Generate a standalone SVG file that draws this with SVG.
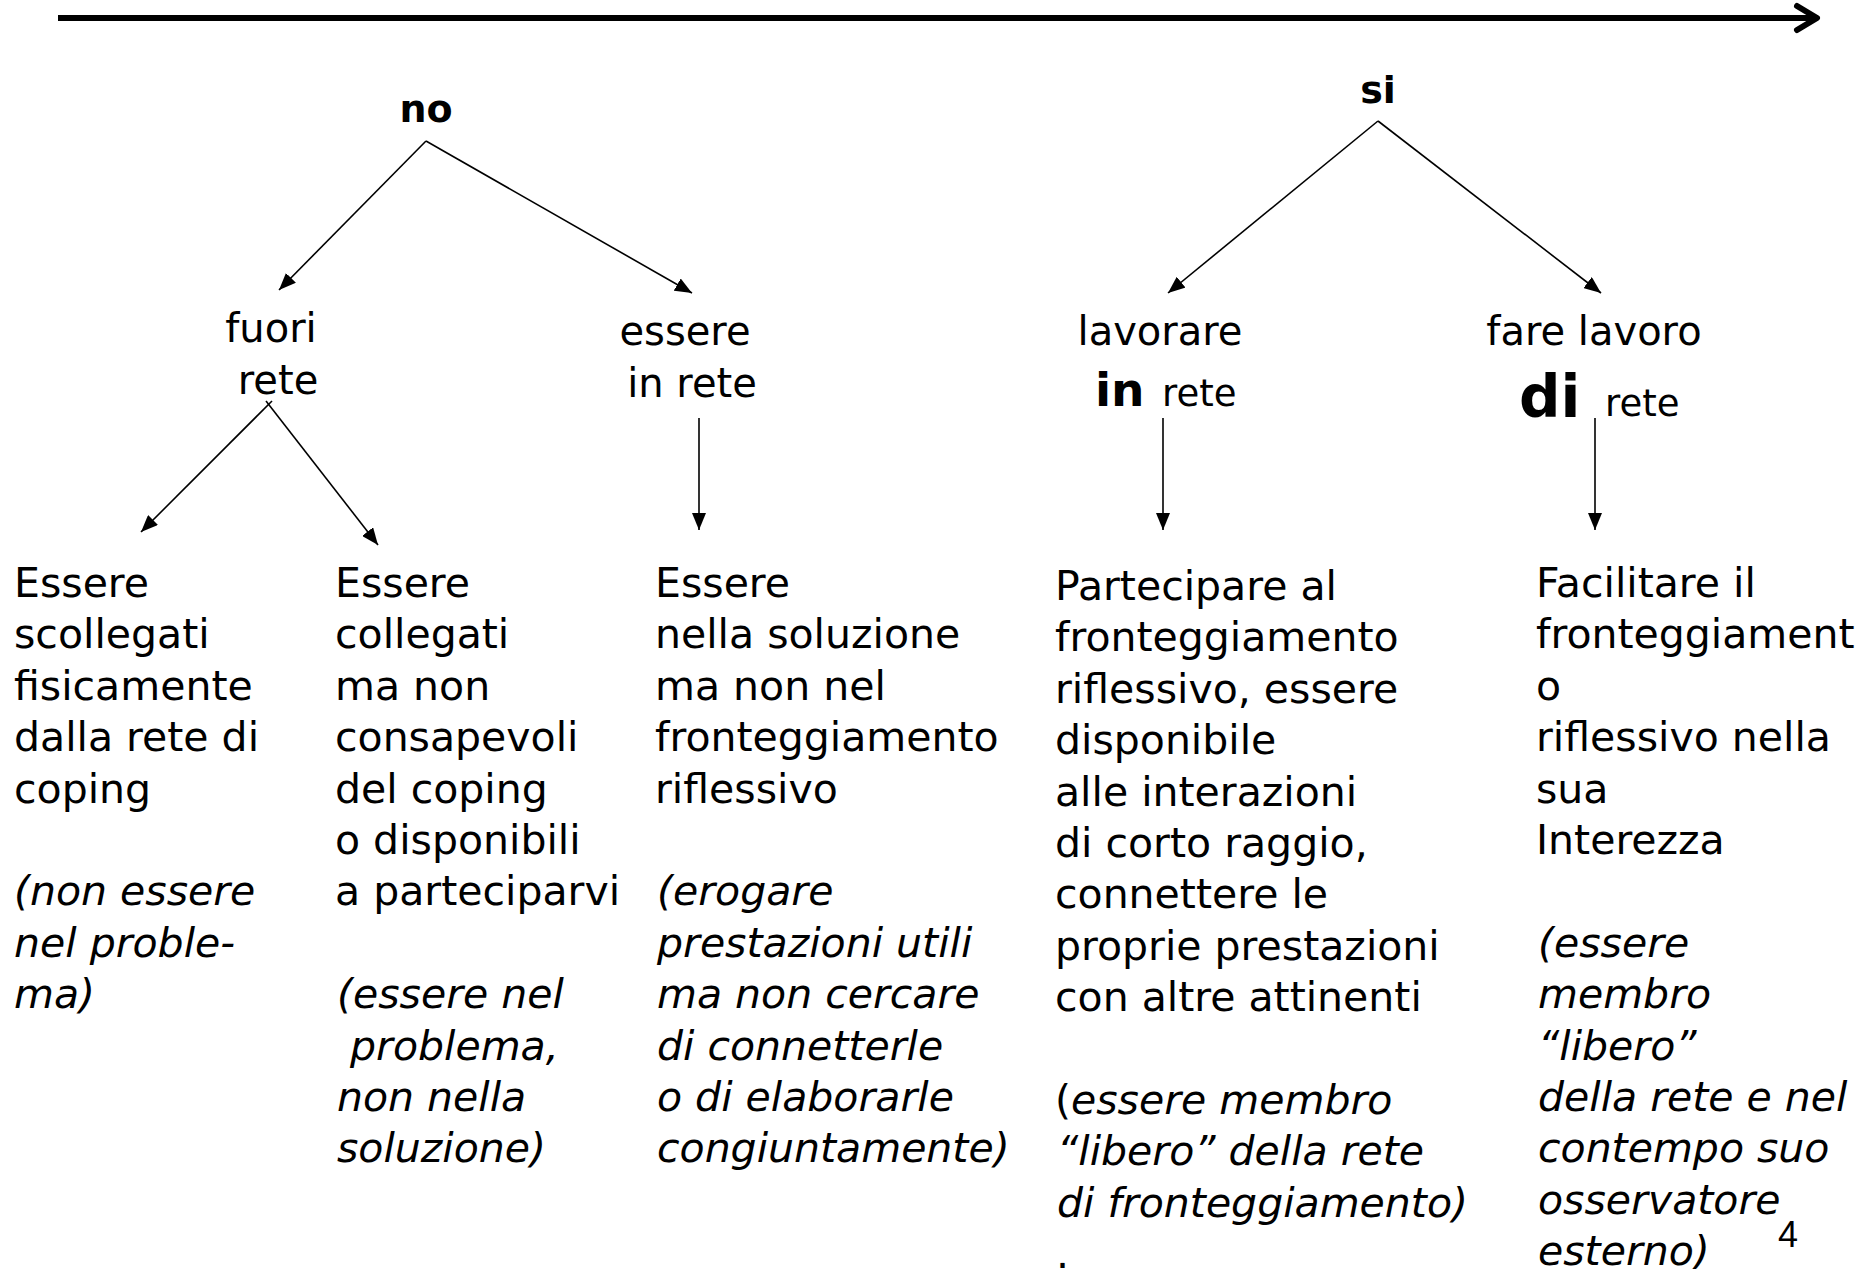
<svg xmlns="http://www.w3.org/2000/svg" width="1871" height="1269" viewBox="0 0 1871 1269">
<style>
text{font-family:"DejaVu Sans","Liberation Sans",sans-serif;fill:#000}
.b{font-size:41px}
.lab{font-size:40px}
.it{font-style:italic}
.bold{font-weight:bold}
.c{text-anchor:middle}
.con line{stroke:#000;stroke-width:1.6;fill:none}
</style>
<defs>
<marker id="ah" markerUnits="userSpaceOnUse" markerWidth="18" markerHeight="14" refX="17" refY="7" orient="auto">
<path d="M0,0 L17,7 L0,14 z" fill="#000"/>
</marker>
</defs>
<rect width="1871" height="1269" fill="#fff"/>
<g id="axis">
<line x1="58" y1="18" x2="1814" y2="18" stroke="#000" stroke-width="6"/>
<polyline points="1797,6 1817,18 1797,30" fill="none" stroke="#000" stroke-width="6" stroke-linecap="round" stroke-linejoin="round"/>
</g>
<g class="con" id="connectors">
<line x1="426" y1="141" x2="279" y2="290" marker-end="url(#ah)"/>
<line x1="426" y1="141" x2="692" y2="293" marker-end="url(#ah)"/>
<line x1="1378" y1="121" x2="1168" y2="293" marker-end="url(#ah)"/>
<line x1="1378" y1="121" x2="1601" y2="293" marker-end="url(#ah)"/>
<line x1="272" y1="401" x2="141" y2="532" marker-end="url(#ah)"/>
<line x1="266" y1="401" x2="378" y2="545" marker-end="url(#ah)"/>
<line x1="699" y1="418" x2="699" y2="530" marker-end="url(#ah)"/>
<line x1="1163" y1="418" x2="1163" y2="530" marker-end="url(#ah)"/>
<line x1="1595" y1="418" x2="1595" y2="530" marker-end="url(#ah)"/>
</g>
<g id="no"><text class="bold c" x="426" y="122" font-size="38">no</text></g>
<g id="si"><text class="bold c" x="1378" y="103" font-size="38">si</text></g>
<g id="fuori-rete">
<text class="lab c" x="271" y="342">fuori</text>
<text class="lab c" x="278" y="394">rete</text>
</g>
<g id="essere-in-rete">
<text class="lab c" x="685" y="345">essere</text>
<text class="lab c" x="692" y="397">in rete</text>
</g>
<g id="lavorare-in-rete">
<text class="lab c" x="1160" y="345">lavorare</text>
<text x="1095" y="406"><tspan class="bold" font-size="47">in</tspan><tspan font-size="37" x="1162">rete</tspan></text>
</g>
<g id="fare-lavoro-di-rete">
<text class="lab c" x="1594" y="345">fare lavoro</text>
<text x="1519" y="417"><tspan class="bold" font-size="58">di</tspan><tspan font-size="37" x="1605" y="416">rete</tspan></text>
</g>
<g id="col1">
<text class="b" x="14" y="597">
<tspan x="14" dy="0">Essere</tspan>
<tspan x="14" dy="51.4">scollegati</tspan>
<tspan x="14" dy="51.4">fisicamente</tspan>
<tspan x="14" dy="51.4">dalla rete di</tspan>
<tspan x="14" dy="51.4">coping</tspan>
<tspan class="it" x="14" dy="102.8">(non essere</tspan>
<tspan class="it" x="14" dy="51.4">nel proble-</tspan>
<tspan class="it" x="14" dy="51.4">ma)</tspan>
</text>
</g>
<g id="col2">
<text class="b" x="335" y="597" xml:space="preserve"><tspan x="335" dy="0">Essere</tspan><tspan x="335" dy="51.4">collegati</tspan><tspan x="335" dy="51.4">ma non</tspan><tspan x="335" dy="51.4">consapevoli</tspan><tspan x="335" dy="51.4">del coping</tspan><tspan x="335" dy="51.4">o disponibili</tspan><tspan x="335" dy="51.4">a parteciparvi</tspan><tspan class="it" x="337" dy="102.8">(essere nel</tspan><tspan class="it" x="337" dy="51.4"> problema,</tspan><tspan class="it" x="337" dy="51.4">non nella</tspan><tspan class="it" x="337" dy="51.4">soluzione)</tspan></text>
</g>
<g id="col3">
<text class="b" x="655" y="597">
<tspan x="655" dy="0">Essere</tspan>
<tspan x="655" dy="51.4">nella soluzione</tspan>
<tspan x="655" dy="51.4">ma non nel</tspan>
<tspan x="655" dy="51.4">fronteggiamento</tspan>
<tspan x="655" dy="51.4">riflessivo</tspan>
<tspan class="it" x="657" dy="102.8">(erogare</tspan>
<tspan class="it" x="657" dy="51.4">prestazioni utili</tspan>
<tspan class="it" x="657" dy="51.4">ma non cercare</tspan>
<tspan class="it" x="657" dy="51.4">di connetterle</tspan>
<tspan class="it" x="657" dy="51.4">o di elaborarle</tspan>
<tspan class="it" x="657" dy="51.4">congiuntamente)</tspan>
</text>
</g>
<g id="col4">
<text class="b" x="1055" y="600">
<tspan x="1055" dy="0">Partecipare al</tspan>
<tspan x="1055" dy="51.4">fronteggiamento</tspan>
<tspan x="1055" dy="51.4">riflessivo, essere</tspan>
<tspan x="1055" dy="51.4">disponibile</tspan>
<tspan x="1055" dy="51.4">alle interazioni</tspan>
<tspan x="1055" dy="51.4">di corto raggio,</tspan>
<tspan x="1055" dy="51.4">connettere le</tspan>
<tspan x="1055" dy="51.4">proprie prestazioni</tspan>
<tspan x="1055" dy="51.4">con altre attinenti</tspan>
<tspan x="1055" dy="102.8">(<tspan class="it">essere membro</tspan></tspan>
<tspan class="it" x="1057" dy="51.4">“libero” della rete</tspan>
<tspan class="it" x="1057" dy="51.4">di fronteggiamento)</tspan>
<tspan x="1056" dy="51.4">.</tspan>
</text>
</g>
<g id="col5">
<text class="b" x="1536" y="597">
<tspan x="1536" dy="0">Facilitare il</tspan>
<tspan x="1536" dy="51.4">fronteggiament</tspan>
<tspan x="1536" dy="51.4">o</tspan>
<tspan x="1536" dy="51.4">riflessivo nella</tspan>
<tspan x="1536" dy="51.4">sua</tspan>
<tspan x="1536" dy="51.4">Interezza</tspan>
<tspan class="it" x="1538" dy="102.8">(essere</tspan>
<tspan class="it" x="1538" dy="51.4">membro</tspan>
<tspan class="it" x="1538" dy="51.4">“libero”</tspan>
<tspan class="it" x="1538" dy="51.4">della rete e nel</tspan>
<tspan class="it" x="1538" dy="51.4">contempo suo</tspan>
<tspan class="it" x="1538" dy="51.4">osservatore</tspan>
<tspan class="it" x="1538" dy="51.4">esterno)</tspan>
</text>
</g>
<g id="page-number"><text x="1778" y="1247" font-size="36" style="font-family:'Liberation Sans',sans-serif">4</text></g>
</svg>
